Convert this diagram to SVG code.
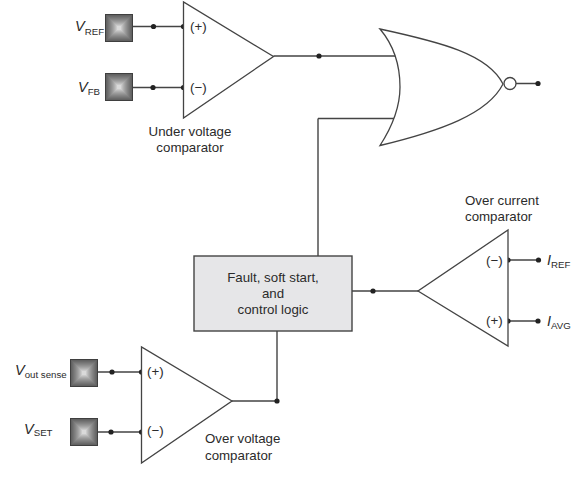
<svg xmlns="http://www.w3.org/2000/svg" width="580" height="484" viewBox="0 0 580 484">
<style>
text{font-family:"Liberation Sans",Arial,sans-serif;fill:#2b2b2b;font-size:13.300px}
.m{text-anchor:middle}
.v{font-style:italic;font-size:14.500px}
.s{font-size:9.700px;font-style:normal}
.w{fill:none;stroke:#444;stroke-width:1.4}
.g{fill:#fff;stroke:#444;stroke-width:1.3;stroke-linejoin:miter}
.d{fill:#222}
</style>
<defs>
<g id="pad">
<rect x="0" y="0" width="28" height="28" fill="#3f3f3f"/>
<rect x="1" y="1" width="26" height="26" fill="#626262"/>
<rect x="2" y="2" width="24" height="24" fill="#6a6a6a"/>
<rect x="3" y="3" width="22" height="22" fill="#737373"/>
<rect x="4" y="4" width="20" height="20" fill="#7c7c7c"/>
<rect x="5" y="5" width="18" height="18" fill="#858585"/>
<rect x="6" y="6" width="16" height="16" fill="#8f8f8f"/>
<rect x="7" y="7" width="14" height="14" fill="#999"/>
<rect x="8" y="8" width="12" height="12" fill="#a4a4a4"/>
<rect x="9" y="9" width="10" height="10" fill="#b0b0b0"/>
<rect x="10" y="10" width="8" height="8" fill="#bdbdbd"/>
<rect x="11" y="11" width="6" height="6" fill="#cbcbcb"/>
<rect x="12" y="12" width="4" height="4" fill="#dadada"/>
</g>
<circle id="dot" r="2.600" class="d"/>
</defs>
<g id="connectors">
<path class="w" d="M132 26.500H183.500M132 87.500H183.500M273.500 56H396M318 118.500H394M318 118.500V256M352 291H418M508 260H538.500M508 321H538.500M98 372H141.500M98 432H141.500M232 401H277M277 331V401M516 83.500H538"/>
<use href="#dot" x="153.500" y="26.500"/><use href="#dot" x="183.500" y="26.500"/>
<use href="#dot" x="153" y="87.500"/><use href="#dot" x="183.500" y="87.500"/>
<use href="#dot" x="319" y="56"/><use href="#dot" x="538" y="83.500"/>
<use href="#dot" x="373" y="291"/>
<use href="#dot" x="508" y="260"/><use href="#dot" x="538.500" y="260"/>
<use href="#dot" x="508" y="321"/><use href="#dot" x="538" y="321"/>
<use href="#dot" x="112" y="372"/><use href="#dot" x="141.500" y="372"/>
<use href="#dot" x="111" y="432"/><use href="#dot" x="141.500" y="432"/>
<use href="#dot" x="277" y="401"/>
</g>
<g id="vref"><use href="#pad" x="105" y="14"/><text class="v" x="75" y="31">V<tspan class="s" dy="3.500">REF</tspan></text></g>
<g id="vfb"><use href="#pad" x="105" y="73"/><text class="v" x="78" y="92">V<tspan class="s" dy="3">FB</tspan></text></g>
<g id="vout"><use href="#pad" x="70" y="359"/><text class="v" x="15" y="375">V<tspan class="s" dy="3">out sense</tspan></text></g>
<g id="vset"><use href="#pad" x="70" y="418"/><text class="v" x="24" y="434">V<tspan class="s" dy="2">SET</tspan></text></g>
<g id="under-voltage">
<path class="g" d="M183.500 2V118L273.500 56.500Z"/>
<text x="190" y="31">(+)</text><text x="190" y="92">(−)</text>
<text class="m" x="190" y="136">Under voltage</text><text class="m" x="190" y="152">comparator</text>
</g>
<g id="nor">
<path class="g" d="M380 29C396 48 400 68 400 87C400 108 392 127 380 145.500C440 131 488 114 503 84C488 54 440 42 380 29Z"/>
<circle class="g" cx="510" cy="83.500" r="6"/>
</g>
<g id="control">
<rect x="194" y="256" width="158" height="75" fill="#e6e6e8" stroke="#444" stroke-width="1.400"/>
<text class="m" x="273" y="282">Fault, soft start,</text>
<text class="m" x="273" y="298">and</text>
<text class="m" x="273" y="314">control logic</text>
</g>
<g id="over-current">
<path class="g" d="M508 230V346L418 291Z"/>
<text x="486" y="265">(−)</text><text x="486" y="325">(+)</text>
<text x="465" y="205">Over current</text><text x="465" y="221">comparator</text>
<text class="v" x="547" y="265">I<tspan class="s" dy="3">REF</tspan></text>
<text class="v" x="547" y="326">I<tspan class="s" dy="3">AVG</tspan></text>
</g>
<g id="over-voltage">
<path class="g" d="M141.500 347V463L232 401Z"/>
<text x="147" y="376">(+)</text><text x="147" y="435">(−)</text>
<text x="205" y="443">Over voltage</text><text x="205" y="460">comparator</text>
</g>
</svg>
